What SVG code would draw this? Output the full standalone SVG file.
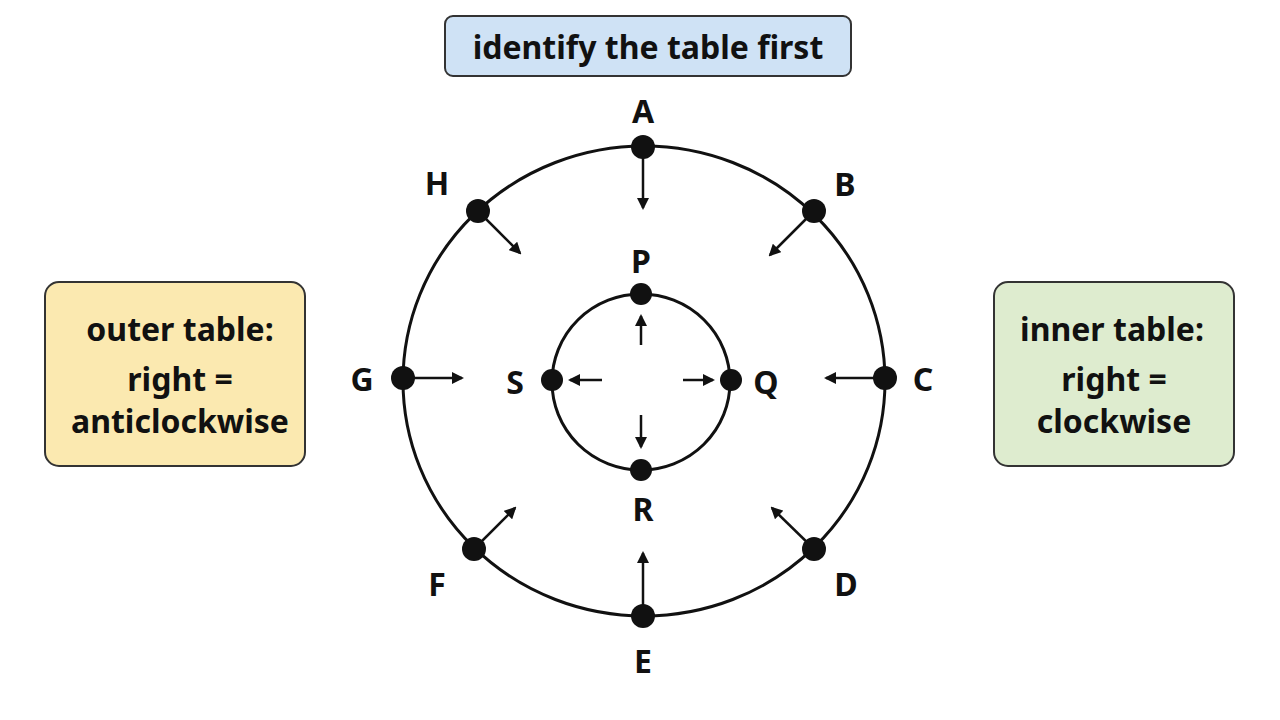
<svg xmlns="http://www.w3.org/2000/svg" width="1280" height="720" viewBox="0 0 1280 720">
<style>
text{font-family:"Noto Sans","Open Sans",sans-serif;font-weight:bold;fill:#111}
.t{font-size:32px;text-anchor:middle;dominant-baseline:central}
.l{font-size:32px;text-anchor:middle;dominant-baseline:central}
.c{fill:none;stroke:#111;stroke-width:3}
.a{stroke:#111;stroke-width:2.5;marker-end:url(#ah)}
.d{fill:#111}
.box{stroke:#333;stroke-width:2}
</style>
<defs><marker id="ah" markerWidth="12" markerHeight="12" refX="10" refY="6" orient="auto" markerUnits="userSpaceOnUse"><path d="M0,0 L12,6 L0,12 z" fill="#111"/></marker></defs>
<rect width="1280" height="720" fill="#fff"/>
<g id="title"><rect class="box" x="445" y="16" width="406" height="60" rx="8" fill="#cfe2f5"/><text class="t" x="648" y="46">identify the table first</text></g>
<g id="outer-note"><rect class="box" x="45" y="282" width="260" height="184" rx="14" fill="#fbe9b0"/><text class="t" x="180" y="328">outer table:</text><text class="t" x="180" y="378">right =</text><text class="t" x="180" y="420">anticlockwise</text></g>
<g id="inner-note"><rect class="box" x="994" y="282" width="240" height="184" rx="14" fill="#deeccf"/><text class="t" x="1112" y="328">inner table:</text><text class="t" x="1114" y="378">right =</text><text class="t" x="1114" y="420">clockwise</text></g>
<g id="tables"><ellipse class="c" cx="644" cy="381" rx="241" ry="235"/><ellipse class="c" cx="641" cy="382" rx="89" ry="88"/></g>
<g id="connectors">
<line class="a" x1="643" y1="158" x2="643" y2="208"/>
<line class="a" x1="814" y1="211" x2="770" y2="255"/>
<line class="a" x1="478" y1="211" x2="520" y2="253"/>
<line class="a" x1="885" y1="378" x2="826" y2="378"/>
<line class="a" x1="403" y1="378" x2="462" y2="378"/>
<line class="a" x1="474" y1="549" x2="515" y2="508"/>
<line class="a" x1="814" y1="549" x2="772" y2="508"/>
<line class="a" x1="643" y1="616" x2="643" y2="553"/>
<line class="a" x1="641" y1="345" x2="641" y2="316"/>
<line class="a" x1="683" y1="380" x2="713" y2="380"/>
<line class="a" x1="602" y1="380" x2="570" y2="380"/>
<line class="a" x1="641" y1="415" x2="641" y2="447"/>
</g>
<g id="A"><circle class="d" cx="643" cy="147" r="12"/><text class="l" x="643" y="110">A</text></g>
<g id="B"><circle class="d" cx="814" cy="211" r="12"/><text class="l" x="845" y="183">B</text></g>
<g id="C"><circle class="d" cx="885" cy="378" r="12"/><text class="l" x="923" y="378">C</text></g>
<g id="D"><circle class="d" cx="814" cy="549" r="12"/><text class="l" x="846" y="583">D</text></g>
<g id="E"><circle class="d" cx="643" cy="616" r="12"/><text class="l" x="643" y="660">E</text></g>
<g id="F"><circle class="d" cx="474" cy="549" r="12"/><text class="l" x="437" y="583">F</text></g>
<g id="G"><circle class="d" cx="403" cy="378" r="12"/><text class="l" x="362" y="378">G</text></g>
<g id="H"><circle class="d" cx="478" cy="211" r="12"/><text class="l" x="437" y="182">H</text></g>
<g id="P"><circle class="d" cx="641" cy="294" r="11"/><text class="l" x="641" y="260">P</text></g>
<g id="Q"><circle class="d" cx="731" cy="380" r="11"/><text class="l" x="766" y="381">Q</text></g>
<g id="R"><circle class="d" cx="641" cy="470" r="11"/><text class="l" x="643" y="508">R</text></g>
<g id="S"><circle class="d" cx="552" cy="380" r="11"/><text class="l" x="515" y="381">S</text></g>
</svg>
